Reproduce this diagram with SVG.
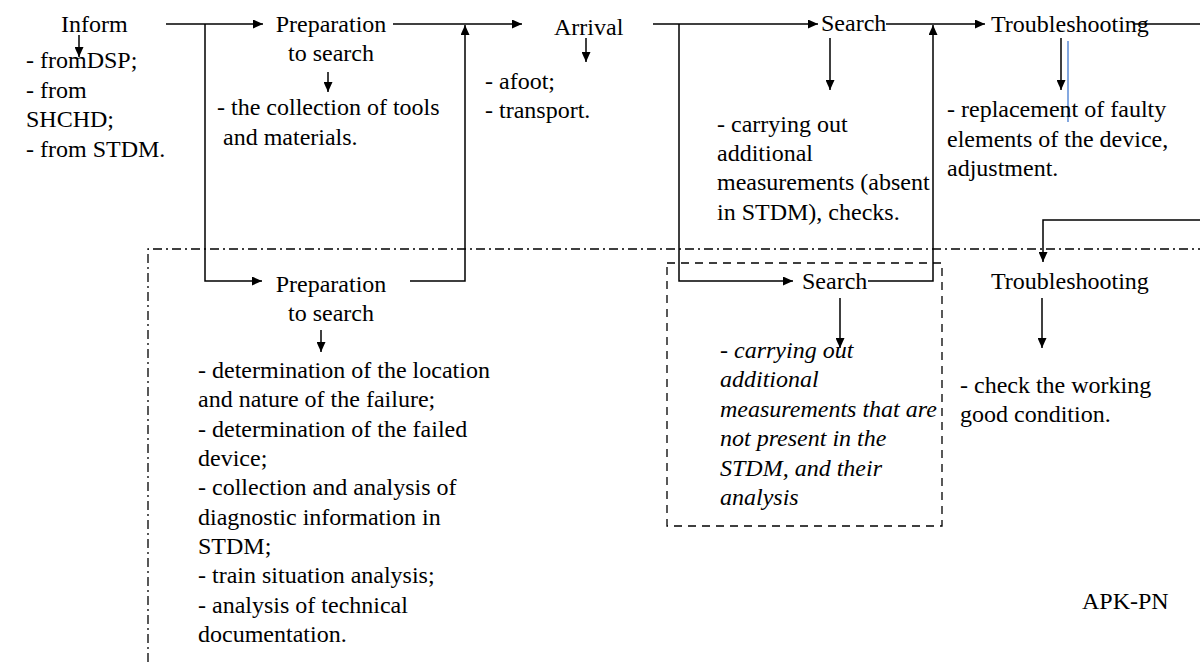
<svg xmlns="http://www.w3.org/2000/svg" width="1200" height="662" viewBox="0 0 1200 662" font-family="'Liberation Serif', 'Times New Roman', Times, 'DejaVu Serif', serif" font-size="24">
<defs>
<marker id="ah" markerUnits="userSpaceOnUse" markerWidth="11" markerHeight="9" refX="10" refY="4.5" orient="auto">
<path d="M0,0 L10,4.5 L0,9 z" fill="#000"/>
</marker>
</defs>
<style>
text{font-family:'Liberation Serif','Times New Roman',Times,'DejaVu Serif',serif;font-size:24px;fill:#000}
.it{font-style:italic}
.c{stroke:#000;stroke-width:1.5;fill:none}
.a{marker-end:url(#ah)}
.mid{text-anchor:middle}
</style>
<rect width="1200" height="662" fill="#fff"/>
<g id="frame">
<path d="M148,662 V249 H1200" fill="none" stroke="#000" stroke-width="1.3" stroke-dasharray="9,4,2,4"/>
<rect x="667" y="263" width="275" height="263" fill="none" stroke="#000" stroke-width="1.3" stroke-dasharray="8,6"/>
</g>
<g id="connectors">
<path class="c a" d="M166,24 H263"/>
<path class="c a" d="M205,24 V281 H262"/>
<path class="c a" d="M393,24 H522"/>
<path class="c a" d="M410,281 H465 V25"/>
<path class="c a" d="M653,24 H818"/>
<path class="c a" d="M679,24 V281 H793"/>
<path class="c a" d="M886,24 H985"/>
<path class="c a" d="M868,281 H933 V25"/>
<path class="c" d="M1133,24 H1200"/>
<path class="c a" d="M1200,220 H1043 V262"/>
<path class="c a" d="M79,35 V57"/>
<path class="c a" d="M328,72 V92"/>
<path class="c a" d="M586,38 V62"/>
<path class="c a" d="M830,38 V90"/>
<path class="c a" d="M1061,38 V90"/>
<path class="c a" d="M321,330 V352"/>
<path class="c a" d="M840,298 V348"/>
<path class="c a" d="M1042,298 V348"/>
<path d="M1068,41 V122" stroke="#5b8bd6" stroke-width="1.5" fill="none"/>
</g>
<g id="inform">
<text x="61" y="32">Inform</text>
<text x="26" y="68">- fromDSP;</text>
<text x="26" y="97.5">- from</text>
<text x="26" y="127">SHCHD;</text>
<text x="26" y="156.5">- from STDM.</text>
</g>
<g id="prep-top">
<text class="mid" x="331" y="32">Preparation</text>
<text class="mid" x="331" y="61">to search</text>
<text x="217" y="115">- the collection of tools</text>
<text x="223" y="145">and materials.</text>
</g>
<g id="arrival">
<text x="554" y="35">Arrival</text>
<text x="485" y="89">- afoot;</text>
<text x="485" y="118">- transport.</text>
</g>
<g id="search-top">
<text x="821" y="31">Search</text>
<text x="717" y="132">- carrying out</text>
<text x="717" y="161">additional</text>
<text x="717" y="190">measurements (absent</text>
<text x="717" y="220">in STDM), checks.</text>
</g>
<g id="trouble-top">
<text x="991" y="32">Troubleshooting</text>
<text x="947" y="117">- replacement of faulty</text>
<text x="947" y="147">elements of the device,</text>
<text x="947" y="176">adjustment.</text>
</g>
<g id="prep-low">
<text class="mid" x="331" y="292">Preparation</text>
<text class="mid" x="331" y="321">to search</text>
<text x="198" y="378">- determination of the location</text>
<text x="198" y="407">and nature of the failure;</text>
<text x="198" y="437">- determination of the failed</text>
<text x="198" y="466">device;</text>
<text x="198" y="495">- collection and analysis of</text>
<text x="198" y="525">diagnostic information in</text>
<text x="198" y="554">STDM;</text>
<text x="198" y="583">- train situation analysis;</text>
<text x="198" y="613">- analysis of technical</text>
<text x="198" y="642">documentation.</text>
</g>
<g id="search-low">
<text x="802" y="289">Search</text>
<text class="it" x="720" y="358">- carrying out</text>
<text class="it" x="720" y="387">additional</text>
<text class="it" x="720" y="417">measurements that are</text>
<text class="it" x="720" y="446">not present in the</text>
<text class="it" x="720" y="476">STDM, and their</text>
<text class="it" x="720" y="505">analysis</text>
</g>
<g id="trouble-low">
<text x="991" y="289">Troubleshooting</text>
<text x="960" y="393">- check the working</text>
<text x="960" y="422">good condition.</text>
</g>
<g id="apk">
<text x="1082" y="609">APK-PN</text>
</g>
</svg>
